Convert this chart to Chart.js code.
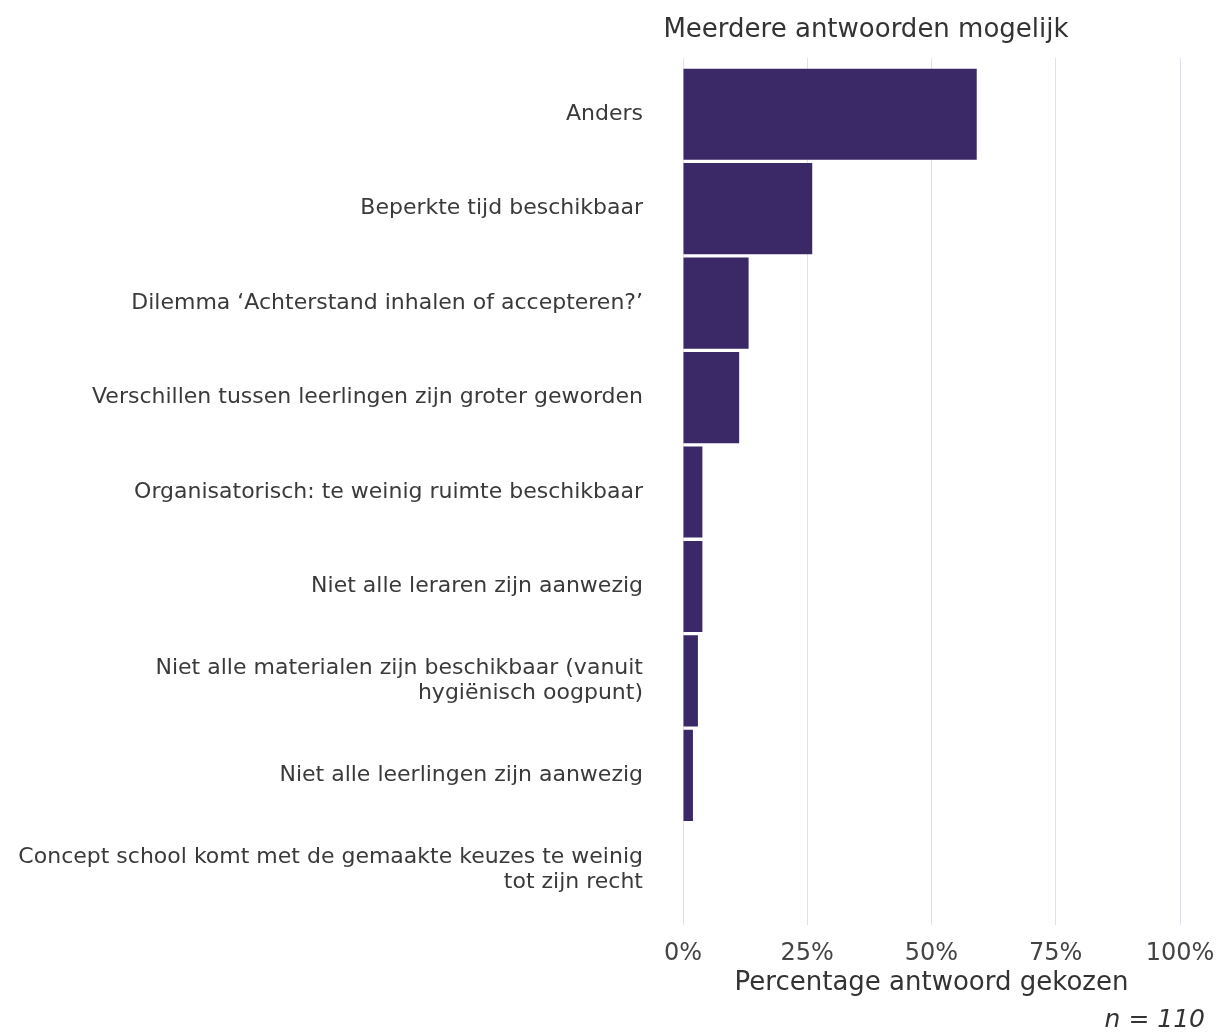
<!DOCTYPE html>
<html>
<head>
<meta charset="utf-8">
<script src="https://cdn.jsdelivr.net/npm/chart.js@4"></script>
<style>
  body { margin: 0; background: #fff; }
  #wrap { width: 1220px; height: 1035px; }
</style>
</head>
<body>
<div id="wrap"><canvas id="c"></canvas></div>
<script>
// Data
const categories = [
    "Anders",
    "Beperkte tijd beschikbaar",
    "Dilemma \u2018Achterstand inhalen of accepteren?\u2019",
    "Verschillen tussen leerlingen zijn groter geworden",
    "Organisatorisch: te weinig ruimte beschikbaar",
    "Niet alle leraren zijn aanwezig",
    ["Niet alle materialen zijn beschikbaar (vanuit", "hygi\u00ebnisch oogpunt)"],
    "Niet alle leerlingen zijn aanwezig",
    ["Concept school komt met de gemaakte keuzes te weinig", "tot zijn recht"]
];
const percentages = [59.1, 26.0, 13.2, 11.3, 3.9, 3.9, 3.0, 2.0, 0];
const xTicks = [0, 25, 50, 75, 100];

const chartTitle = "Meerdere antwoorden mogelijk";
const xTitle = "Percentage antwoord gekozen";
const footnote = "n = 110";

const FONT = "'DejaVu Sans', Verdana, sans-serif";

// extra text: title on top and the n note at the bottom right,
// plus the short grid stubs above the plot area
const extraText = {
    id: "extraText",
    beforeDatasetsDraw(chart) {
        const ctx = chart.ctx;
        const x = chart.scales.x;
        const top = chart.chartArea.top;
        ctx.save();
        ctx.strokeStyle = "#e2def0";
        ctx.lineWidth = 1;
        xTicks.forEach(v => {
            // same pixel alignment as the library's own grid lines
            const px = Math.round(x.getPixelForValue(v) - 0.5) + 0.5;
            ctx.beginPath();
            ctx.moveTo(px, top - 9);
            ctx.lineTo(px, top);
            ctx.stroke();
        });
        ctx.restore();
    },
    afterDraw(chart) {
        const ctx = chart.ctx;
        ctx.save();
        ctx.fillStyle = "#333";
        ctx.textBaseline = "middle";
        ctx.font = "26px " + FONT;
        ctx.textAlign = "center";
        ctx.fillText(chartTitle, 866, 30);
        ctx.font = "italic 25px " + FONT;
        ctx.textAlign = "right";
        ctx.fillText(footnote, 1205, 1020);
        ctx.restore();
    }
};

let bar;
function initChart() {
    bar = new Chart(
        document.querySelector("#c").getContext("2d"),
        {
            type: "bar",
            data: {
                labels: categories,
                datasets: [
                    {
                        data: percentages,
                        backgroundColor: "#3b2866",
                        barPercentage: 0.965,
                        categoryPercentage: 1
                    }
                ]
            },
            options: {
                indexAxis: "y",
                responsive: true,
                maintainAspectRatio: false,
                animation: false,
                layout: { padding: { top: 67, right: 40, left: 10, bottom: 0 } },
                plugins: {
                    legend: { display: false },
                    tooltip: { enabled: false }
                },
                scales: {
                    x: {
                        min: 0,
                        max: 100,
                        afterBuildTicks(scale) {
                            scale.ticks = xTicks.map(v => ({ value: v }));
                        },
                        afterFit(scale) {
                            scale.height = 118;
                            scale.paddingLeft = 0;
                            scale.paddingRight = 0;
                        },
                        grid: {
                            color: "#e2def0",
                            lineWidth: 1,
                            tickLength: 8
                        },
                        border: { display: false },
                        ticks: {
                            padding: 14,
                            color: "#444",
                            font: { family: FONT, size: 24 },
                            callback: v => v + "%"
                        },
                        title: {
                            display: true,
                            text: xTitle,
                            color: "#333",
                            font: { family: FONT, size: 26 },
                            padding: { top: 0, bottom: 36 }
                        }
                    },
                    y: {
                        afterFit(scale) { scale.width = 673; },
                        grid: { display: false, drawTicks: false },
                        border: { display: false },
                        ticks: {
                            padding: 40,
                            color: "#3a3a3a",
                            font: { family: FONT, size: 22, lineHeight: 1.15 }
                        }
                    }
                }
            },
            plugins: [extraText]
        }
    );
}

initChart();
</script>
</body>
</html>
